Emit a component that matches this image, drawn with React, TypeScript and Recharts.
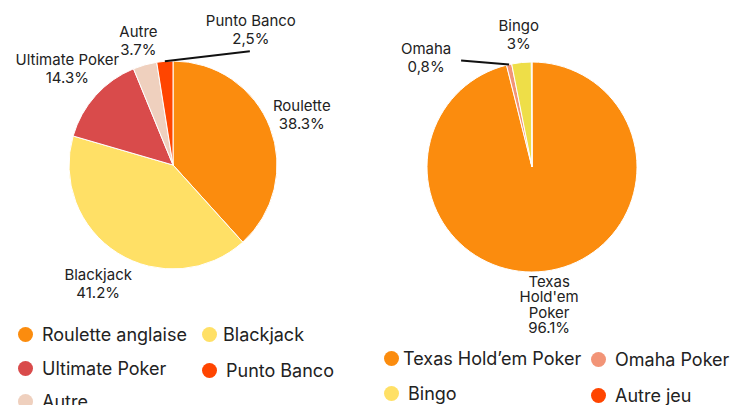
import { PieChart, Pie, Cell } from "recharts"

// left pie: game shares (slice order clockwise from top)
const casinoNames = ["Roulette anglaise", "Blackjack", "Ultimate Poker", "Autre", "Punto Banco"]
const casinoValues = [38.3, 41.2, 14.3, 3.7, 2.5]
const casinoLabelLines = [["Roulette"], ["Blackjack"], ["Ultimate Poker"], ["Autre"], ["Punto Banco"]]
const casinoLabelValues = ["38.3%", "41.2%", "14.3%", "3.7%", "2,5%"]
const casinoColors = ["#FB8C0E", "#FFE066", "#D94B4B", "#EFD0BE", "#FF4500"]
const casinoLegendOrder = [0, 1, 2, 4, 3]

// right pie: poker variants
const pokerNames = ["Texas Hold’em Poker", "Omaha Poker", "Bingo", "Autre jeu"]
const pokerValues = [96.1, 0.8, 3, 0.1]
const pokerLabelLines = [["Texas", "Hold'em", "Poker"], ["Omaha"], ["Bingo"], []]
const pokerLabelValues = ["96.1%", "0,8%", "3%", ""]
const pokerColors = ["#FB8C0E", "#F29477", "#EEDE48", "#FF4500"]
const pokerLegendColors = ["#FB8C0E", "#F29477", "#FFE066", "#FF4500"]

const RAD = Math.PI / 180
const FONT = "Inter, 'Noto Sans', sans-serif"
const TEXT = "#222"

// label placement: distance from centre, or a leader line for the thin slices
const casinoLabelRadius = [138, 141, 142, 128, 0]
const pokerLabelRadius = [140, 0, 132, 0]

function makeLabel(lines: string[][], values: string[], radii: number[], lineGap: number, leader: Record<number, { dx: number; dy: number; tx: number; ty: number }>) {
  return (props: any) => {
    const { cx, cy, midAngle, outerRadius, index } = props
    const all = [...lines[index], values[index]].filter((s) => s)
    if (!all.length) return null
    const cos = Math.cos(-midAngle * RAD)
    const sin = Math.sin(-midAngle * RAD)
    const l = leader[index]
    if (l) {
      const sx = cx + outerRadius * cos
      const sy = cy + outerRadius * sin
      const ex = sx + l.dx
      const ey = sy + l.dy
      return (
        <g>
          <polyline points={`${sx},${sy} ${ex},${ey}`} stroke="#111" strokeWidth={2} fill="none" />
          {all.map((t, i) => (
            <text key={i} x={ex + l.tx} y={ey + l.ty + i * 18} textAnchor="middle" dominantBaseline="middle" fill={TEXT} fontSize={15} fontFamily={FONT}>
              {t}
            </text>
          ))}
        </g>
      )
    }
    const r = radii[index]
    const x = cx + r * cos
    const y = cy + r * sin
    const gap = all.length > 2 ? lineGap : 18
    const top = y - ((all.length - 1) * gap) / 2
    return (
      <g>
        {all.map((t, i) => (
          <text key={i} x={x} y={top + i * gap} textAnchor="middle" dominantBaseline="middle" fill={TEXT} fontSize={15} fontFamily={FONT}>
            {t}
          </text>
        ))}
      </g>
    )
  }
}

const LegendDot = ({ color, label, x, y, tx }: { color: string; label: string; x: number; y: number; tx: number }) => (
  <div style={{ position: "absolute", left: x - 7.5, top: y - 12, display: "flex", alignItems: "center", height: 24, whiteSpace: "nowrap" }}>
    <span style={{ width: 15, height: 15, borderRadius: "50%", background: color, display: "inline-block", marginRight: tx - 7.5 }} />
    <span style={{ fontSize: 18, color: TEXT, fontFamily: FONT }}>{label}</span>
  </div>
)

export default function App() {
  const casinoData = casinoNames.map((name, i) => ({ name, value: casinoValues[i] }))
  const pokerData = pokerNames.map((name, i) => ({ name, value: pokerValues[i] }))

  // dot centre x, dot centre y, text start offset from dot centre
  const casinoLegendPos = [
    [25, 334, 17],
    [209, 334, 14],
    [25, 368, 17],
    [209, 370, 17],
    [25, 401, 17],
  ]
  const pokerLegendPos = [
    [391, 358, 12],
    [598, 359, 17],
    [391, 393, 17],
    [598, 395, 17],
  ]

  return (
    <div style={{ position: "relative", width: 734, height: 405, overflow: "hidden", background: "#fff" }}>
      <style>{`body{margin:0}`}</style>
      <div style={{ position: "absolute", left: 0, top: 0 }}>
        <PieChart width={367} height={405} margin={{ top: 0, right: 0, bottom: 0, left: 0 }}>
          <Pie
            data={casinoData}
            dataKey="value"
            nameKey="name"
            cx={173}
            cy={165}
            outerRadius={104}
            startAngle={90}
            endAngle={-270}
            stroke="#fff"
            strokeWidth={1}
            labelLine={false}
            label={makeLabel(casinoLabelLines, casinoLabelValues, casinoLabelRadius, 18, {
              4: { dx: 85, dy: -10, tx: 1, ty: -29 },
            })}
            isAnimationActive={false}
          >
            {casinoData.map((_, i) => (
              <Cell key={i} fill={casinoColors[i]} />
            ))}
          </Pie>
        </PieChart>
      </div>
      <div style={{ position: "absolute", left: 367, top: 0 }}>
        <PieChart width={367} height={405} margin={{ top: 0, right: 0, bottom: 0, left: 0 }}>
          <Pie
            data={pokerData}
            dataKey="value"
            nameKey="name"
            cx={165}
            cy={167}
            outerRadius={105}
            startAngle={90}
            endAngle={-270}
            stroke="#fff"
            strokeWidth={1}
            labelLine={false}
            label={makeLabel(pokerLabelLines, pokerLabelValues, pokerLabelRadius, 15.6, {
              1: { dx: -48, dy: -4, tx: -35, ty: -11 },
            })}
            isAnimationActive={false}
          >
            {pokerData.map((_, i) => (
              <Cell key={i} fill={pokerColors[i]} />
            ))}
          </Pie>
        </PieChart>
      </div>
      {casinoLegendOrder.map((idx, k) => (
        <LegendDot key={"c" + k} color={casinoColors[idx]} label={casinoNames[idx]} x={casinoLegendPos[k][0]} y={casinoLegendPos[k][1]} tx={casinoLegendPos[k][2]} />
      ))}
      {pokerNames.map((name, k) => (
        <LegendDot key={"p" + k} color={pokerLegendColors[k]} label={name} x={pokerLegendPos[k][0]} y={pokerLegendPos[k][1]} tx={pokerLegendPos[k][2]} />
      ))}
    </div>
  )
}
